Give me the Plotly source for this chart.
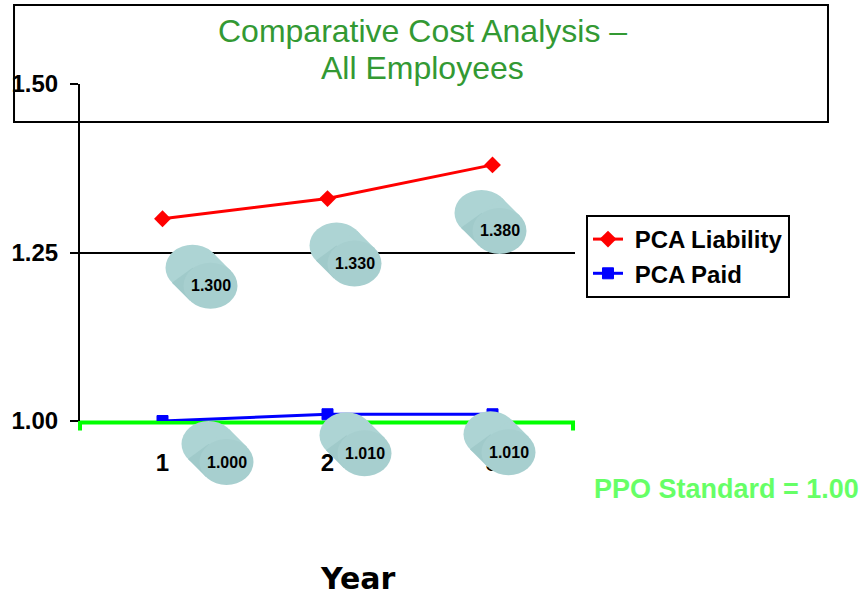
import numpy as np
import plotly.graph_objects as go

# ---- data -------------------------------------------------------------
years = [1, 2, 3]
x_tick_labels = ["1", "2", "3"]
pca_liability = [1.300, 1.330, 1.380]
pca_paid = [1.000, 1.010, 1.010]
ppo_standard = 1.00
y_tick_values = [1.00, 1.25, 1.50]
y_tick_labels = ["1.00", "1.25", "1.50"]

# ---- callout placement: pixel offset (right, down) from point to label ---
liability_offsets = [(48, 67), (27, 65), (7, 66)]
paid_offsets = [(64, 41), (37, 39), (16, 38)]

X_RANGE = [0.5, 3.5]
Y_RANGE = [1.0, 1.5]
PLOT_H = 337               # plot area height in px

FONT = "Liberation Sans, Arial, sans-serif"
RX, RY = 27, 23            # front face radii in px
AXIS = (-18, -18)          # face -> back vector in px (screen: right, down)
LIGHT = "#add4d4"
DARK = "#a0caca"
FACE = "#a7cfcf"


def px_(xv):
    return (xv - X_RANGE[0]) / (X_RANGE[1] - X_RANGE[0])


def py_(yv):
    return (yv - Y_RANGE[0]) / (Y_RANGE[1] - Y_RANGE[0])


fig = go.Figure()

fig.add_trace(go.Scatter(
    x=years, y=pca_liability, name="\u00a0PCA Liability", mode="lines+markers",
    line=dict(color="#ff0000", width=3),
    marker=dict(symbol="diamond", size=13, color="#ff0000"),
))
fig.add_trace(go.Scatter(
    x=years, y=pca_paid, name="\u00a0PCA Paid", mode="lines+markers",
    line=dict(color="#0000ff", width=3),
    marker=dict(symbol="square", size=11, color="#0000ff",
                line=dict(color="#0000ff", width=1)),
))

shapes = []

# PPO standard reference line across the plot, ends turned down
y_ppo = py_(ppo_standard) - 1.5 / PLOT_H
drop = 8 / PLOT_H
shapes.append(dict(
    type="path", xref="paper", yref="paper", layer="below",
    path=(f"M 0,{y_ppo - drop} L 0,{y_ppo} "
          f"L 0.996,{y_ppo} L 0.996,{y_ppo - drop}"),
    line=dict(color="#00ff00", width=4),
))


def poly(points):
    s = " L ".join(f"{x:.2f},{y:.2f}" for x, y in points)
    return f"M {s} Z"


def cylinder(xv, yv, off):
    """Tilted cylinder callout anchored to a data point (pixel-sized)."""
    fx, fy = off[0], -off[1]
    ax, ay = AXIS[0], -AXIS[1]
    bx, by = fx + ax, fy + ay
    t0 = np.arctan2(-RY * ax, RX * ay)
    p0 = (fx + RX * np.cos(t0), fy + RY * np.sin(t0))
    p1 = (fx - RX * np.cos(t0), fy - RY * np.sin(t0))
    q0 = (p0[0] + ax, p0[1] + ay)
    q1 = (p1[0] + ax, p1[1] + ay)
    common = dict(xref="paper", yref="paper", xsizemode="pixel",
                  ysizemode="pixel", xanchor=px_(xv), yanchor=py_(yv),
                  layer="above", line=dict(width=0))
    return [
        dict(type="circle", x0=bx - RX, x1=bx + RX, y0=by - RY, y1=by + RY,
             fillcolor=LIGHT, **common),
        dict(type="path", path=poly([(fx, fy), p0, q0, (bx, by)]),
             fillcolor=LIGHT, **common),
        dict(type="path", path=poly([(fx, fy), (bx, by), q1, p1]),
             fillcolor=DARK, **common),
        dict(type="circle", x0=fx - RX, x1=fx + RX, y0=fy - RY, y1=fy + RY,
             fillcolor=FACE, **common),
    ]


annotations = []
for series, offsets in ((pca_liability, liability_offsets),
                        (pca_paid, paid_offsets)):
    for xv, yv, off in zip(years, series, offsets):
        shapes.extend(cylinder(xv, yv, off))
        annotations.append(dict(
            x=xv, y=yv, xref="x", yref="y", showarrow=False,
            xanchor="center", yanchor="middle",
            xshift=off[0], yshift=-off[1], text=f"{yv:.3f}",
            font=dict(family=FONT, size=16, color="black", weight="bold"),
        ))

# title box
shapes.append(dict(type="rect", xref="paper", yref="paper",
                   x0=-0.1333, x1=1.5111, y0=0.8872, y1=1.2344,
                   line=dict(color="black", width=2), fillcolor="rgba(0,0,0,0)",
                   layer="above"))

center = dict(xref="paper", yref="paper", showarrow=False,
              xanchor="center", yanchor="middle")
annotations += [
    dict(x=0.691, y=1.1587, text="Comparative Cost Analysis \u2013",
         font=dict(family=FONT, size=32, color="#339933"), **center),
    dict(x=0.691, y=1.0489, text="All Employees",
         font=dict(family=FONT, size=32, color="#339933"), **center),
    dict(x=1.307, y=-0.2018, text=f"PPO Standard = {ppo_standard:.2f}",
         font=dict(family=FONT, size=27, color="#66ff66", weight="bold"),
         **center),
    dict(x=0.5616, y=-0.4688, text="Year",
         font=dict(family="DejaVu Sans", size=30, color="black",
                   weight="bold"), **center),
]

fig.update_layout(
    template="none",
    width=865, height=598,
    margin=dict(l=80, r=290, t=84, b=177, autoexpand=False),
    paper_bgcolor="white", plot_bgcolor="white",
    font=dict(family=FONT, color="black"),
    shapes=shapes, annotations=annotations,
    showlegend=True,
    legend=dict(x=1.0222, y=0.6113, xanchor="left", yanchor="top",
                bordercolor="black", borderwidth=2, bgcolor="white",
                font=dict(family=FONT, size=24, color="black", weight="bold")),
    xaxis=dict(range=X_RANGE, tickvals=years, ticktext=x_tick_labels,
               showgrid=False, zeroline=False, showline=False, ticks="",
               automargin=False, ticklabelstandoff=25,
               tickfont=dict(family=FONT, size=24, color="black",
                             weight="bold")),
    yaxis=dict(range=Y_RANGE, tickvals=y_tick_values, ticktext=y_tick_labels,
               showgrid=True, gridcolor="black", gridwidth=1.5,
               zeroline=False, showline=True, linecolor="black", linewidth=2,
               ticks="outside", ticklen=8, tickwidth=2, tickcolor="black",
               automargin=False, ticklabelstandoff=7,
               tickfont=dict(family=FONT, size=24, color="black",
                             weight="bold")),
)

fig.write_html("out.html")
